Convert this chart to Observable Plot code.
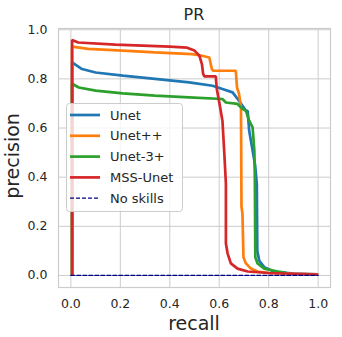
<!DOCTYPE html>
<html>
<head>
<meta charset="utf-8">
<script src="https://cdn.jsdelivr.net/npm/d3@7"></script>
<script src="https://cdn.jsdelivr.net/npm/@observablehq/plot@0.6"></script>
<style>
  html, body { margin: 0; padding: 0; background: white; }
  #chart { position: relative; width: 342px; height: 337px; }
</style>
</head>
<body>
<div id="chart"></div>
<script>
const ticks = [0, 0.2, 0.4, 0.6, 0.8, 1.0];
const seriesNames = ["Unet", "Unet++", "Unet-3+", "MSS-Unet"];
const seriesColors = ["#1f77b4", "#ff7f0e", "#2ca02c", "#d62728"];

const unetRecall    = [0.005, 0.005, 0.045, 0.1, 0.21, 0.34, 0.478, 0.573, 0.613, 0.654, 0.68, 0.708, 0.715, 0.721, 0.735, 0.745, 0.752, 0.754, 0.762, 0.782, 0.82, 0.9, 1.0];
const unetPrecision = [0, 0.867, 0.84, 0.826, 0.813, 0.80, 0.786, 0.772, 0.759, 0.745, 0.711, 0.67, 0.67, 0.59, 0.508, 0.45, 0.373, 0.1, 0.06, 0.034, 0.016, 0.008, 0.005];

const unetppRecall    = [0.005, 0.005, 0.07, 0.21, 0.34, 0.49, 0.53, 0.56, 0.57, 0.575, 0.667, 0.672, 0.68, 0.688, 0.69, 0.694, 0.698, 0.708, 0.728, 0.755, 0.8, 0.9, 1.0];
const unetppPrecision = [0, 0.931, 0.922, 0.915, 0.908, 0.901, 0.894, 0.887, 0.84, 0.833, 0.833, 0.765, 0.74, 0.683, 0.28, 0.25, 0.074, 0.049, 0.028, 0.016, 0.01, 0.007, 0.005];

const unet3Recall    = [0.005, 0.005, 0.032, 0.1, 0.21, 0.34, 0.478, 0.613, 0.627, 0.674, 0.694, 0.708, 0.721, 0.735, 0.742, 0.744, 0.746, 0.755, 0.782, 0.836, 0.87];
const unet3Precision = [0, 0.78, 0.765, 0.752, 0.741, 0.732, 0.725, 0.718, 0.704, 0.698, 0.678, 0.67, 0.63, 0.603, 0.508, 0.4, 0.074, 0.049, 0.028, 0.016, 0.012];

const mssRecall    = [0.005, 0.005, 0.03, 0.18, 0.29, 0.40, 0.47, 0.50, 0.52, 0.53, 0.535, 0.54, 0.586, 0.59, 0.599, 0.613, 0.62, 0.627, 0.627, 0.634, 0.647, 0.674, 0.715, 0.8, 1.0];
const mssPrecision = [0, 0.958, 0.948, 0.939, 0.935, 0.931, 0.927, 0.915, 0.894, 0.86, 0.82, 0.81, 0.81, 0.76, 0.711, 0.63, 0.508, 0.374, 0.13, 0.089, 0.049, 0.028, 0.016, 0.01, 0.004];

const noSkillRecall = [0, 1];
const noSkillPrecision = [0, 0];

const allRecall = [unetRecall, unetppRecall, unet3Recall, mssRecall];
const allPrecision = [unetPrecision, unetppPrecision, unet3Precision, mssPrecision];

const rows = [];
seriesNames.forEach((name, i) => {
  allRecall[i].forEach((r, j) => rows.push({series: name, recall: r, precision: allPrecision[i][j]}));
});
const noSkill = noSkillRecall.map((r, j) => ({recall: r, precision: noSkillPrecision[j]}));

const textColor = "#262626";
const gridColor = "#cccccc";

const plot = Plot.plot({
  width: 342,
  height: 337,
  marginLeft: 58,
  marginRight: 12,
  marginTop: 28,
  marginBottom: 50,
  style: {fontFamily: "DejaVu Sans", fontSize: "12.5px", color: textColor, background: "white"},
  x: {domain: [-0.05, 1.05], ticks: ticks, tickFormat: d3.format(".1f"), tickSize: 0, tickPadding: 12, label: null},
  y: {domain: [-0.049, 1.005], ticks: ticks, tickFormat: d3.format(".1f"), tickSize: 0, tickPadding: 11, label: null},
  color: {domain: seriesNames, range: seriesColors},
  marks: [
    Plot.gridX(ticks, {stroke: gridColor, strokeOpacity: 1, strokeWidth: 1}),
    Plot.gridY(ticks, {stroke: gridColor, strokeOpacity: 1, strokeWidth: 1}),
    Plot.frame({stroke: gridColor, strokeWidth: 1.2}),
    Plot.line(rows, {x: "recall", y: "precision", z: "series", stroke: "series", strokeWidth: 2.7, strokeLinejoin: "miter", strokeLinecap: "butt"}),
    Plot.line(noSkill, {x: "recall", y: "precision", stroke: "#000080", strokeWidth: 1.3, strokeDasharray: "4,2"}),
    Plot.axisX({ticks: ticks, tickFormat: d3.format(".1f"), tickSize: 0, tickPadding: 12, label: null, fill: textColor}),
    Plot.axisY({ticks: ticks, tickFormat: d3.format(".1f"), tickSize: 0, tickPadding: 11, label: null, fill: textColor})
  ]
});

const svg = d3.select(plot);
svg.append("text").attr("x", 194).attr("y", 20).attr("text-anchor", "middle")
  .attr("font-size", "16px").attr("fill", textColor).text("PR");
svg.append("text").attr("x", 194).attr("y", 330).attr("text-anchor", "middle")
  .attr("font-size", "19px").attr("fill", textColor).text("recall");
svg.append("text").attr("transform", "translate(19,156) rotate(-90)").attr("text-anchor", "middle")
  .attr("font-size", "19px").attr("fill", textColor).text("precision");

// legend
const lg = svg.append("g").attr("font-size", "13px").attr("fill", textColor).attr("text-anchor", "start");
lg.append("rect").attr("x", 66.5).attr("y", 103.5).attr("width", 116).attr("height", 108).attr("rx", 3)
  .attr("fill", "white").attr("fill-opacity", 0.8).attr("stroke", "#cccccc").attr("stroke-width", 1);
const legendNames = [...seriesNames, "No skills"];
const legendColors = [...seriesColors, "#000080"];
legendNames.forEach((name, i) => {
  const y = 115 + i * 20.8;
  const dashed = i === 4;
  lg.append("line").attr("x1", 70).attr("x2", 100).attr("y1", y).attr("y2", y)
    .attr("stroke", legendColors[i]).attr("stroke-width", dashed ? 1.3 : 2.7)
    .attr("stroke-dasharray", dashed ? "4,2" : null);
  lg.append("text").attr("x", 110).attr("y", y).attr("dy", "0.35em").attr("text-anchor", "start").text(name);
});

document.getElementById("chart").appendChild(plot);
</script>
</body>
</html>
